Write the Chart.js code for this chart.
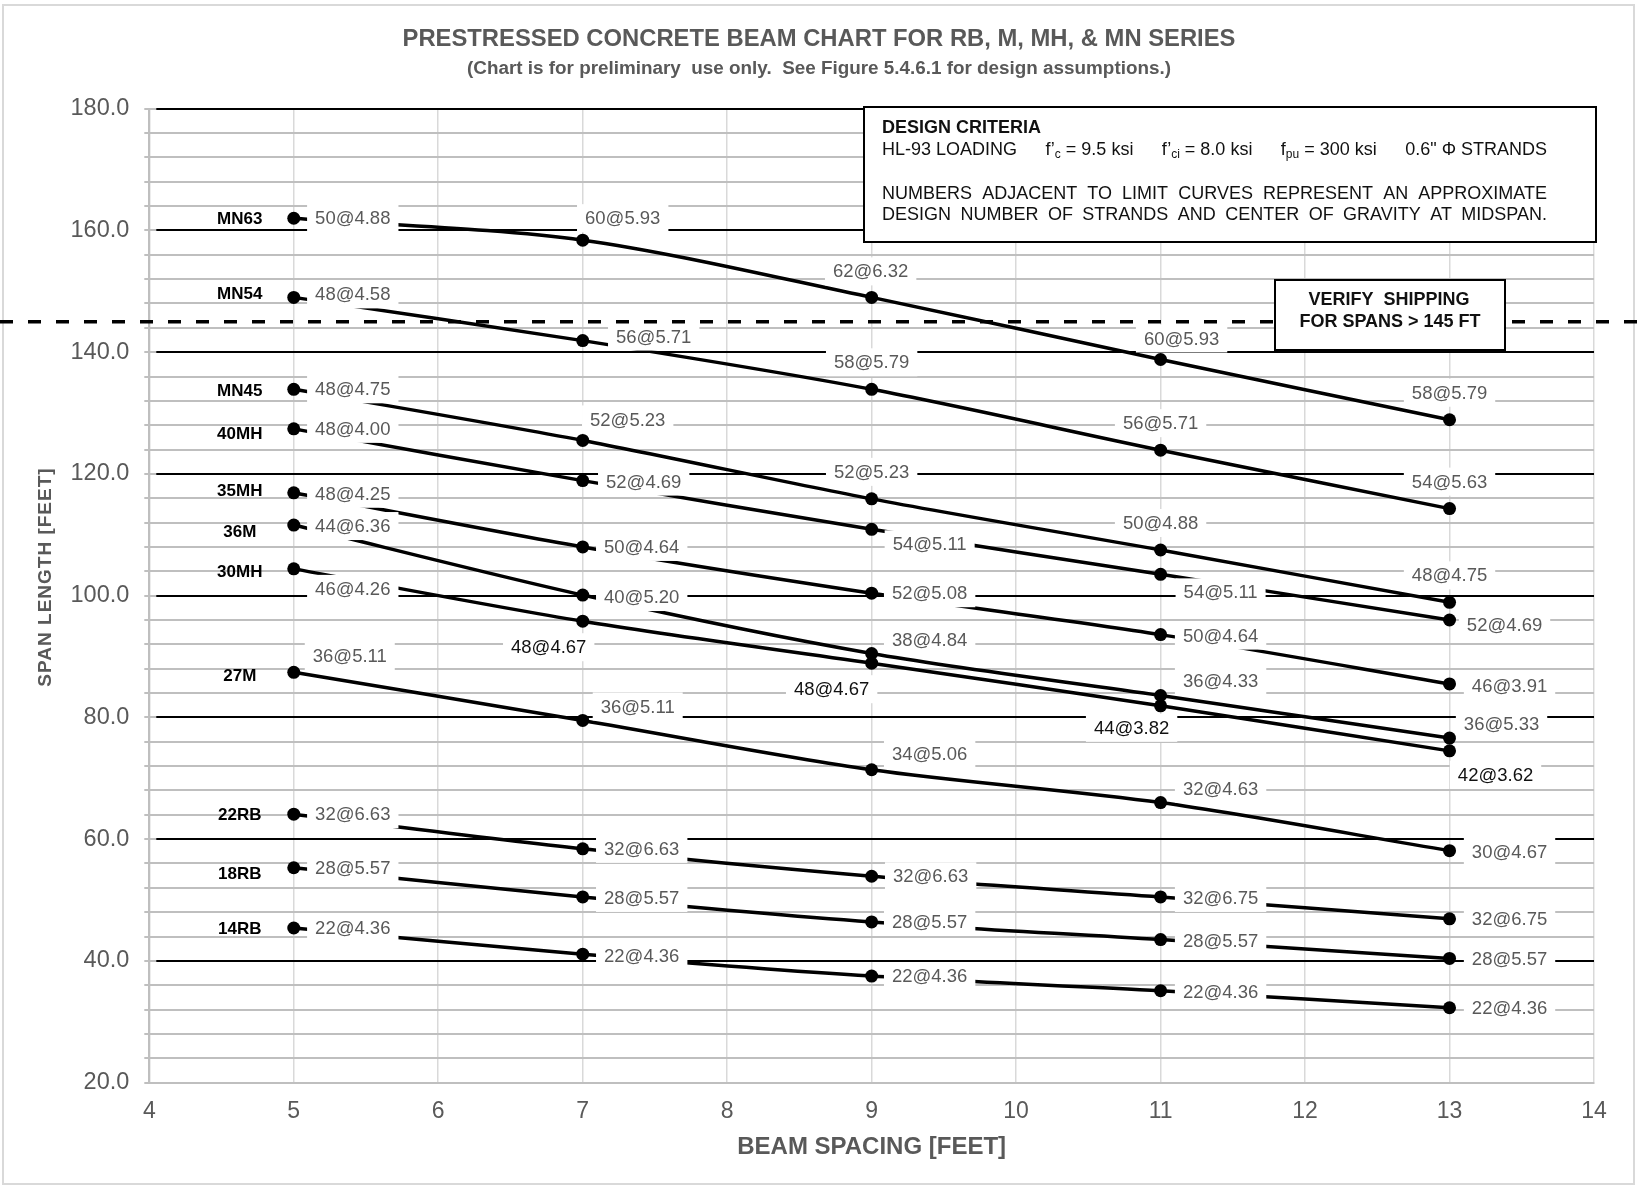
<!DOCTYPE html>
<html>
<head>
<meta charset="utf-8">
<script src="https://cdn.jsdelivr.net/npm/chart.js@4.4.1/dist/chart.umd.min.js"></script>
<style>
html,body{margin:0;padding:0;background:#fff;}
canvas{display:block;}
</style>
</head>
<body>
<canvas id="c" width="1637" height="1185"></canvas>
<script>
// ================= DATA =================
const beamSpacing = [5, 7, 9, 11, 13];            // x values [ft]
const xTickLabels = ['4','5','6','7','8','9','10','11','12','13','14'];
const yTickLabels = ['20.0','40.0','60.0','80.0','100.0','120.0','140.0','160.0','180.0'];

const seriesNames = ['MN63','MN54','MN45','40MH','35MH','36M','30MH','27M','22RB','18RB','14RB'];

const spanMN63 = [162.0, 158.4, 149.0, 138.8, 128.9];
const spanMN54 = [149.0, 141.9, 133.9, 123.9, 114.3];
const spanMN45 = [133.9, 125.5, 115.9, 107.5, 98.9];
const span40MH = [127.4, 118.9, 110.9, 103.5, 96.0];
const span35MH = [116.9, 108.0, 100.4, 93.6, 85.5];
const span36M  = [111.6, 100.1, 90.5, 83.6, 76.6];
const span30MH = [104.4, 95.8, 88.9, 81.9, 74.5];
const span27M  = [87.4, 79.5, 71.4, 66.0, 58.1];
const span22RB = [64.1, 58.4, 53.9, 50.5, 46.9];
const span18RB = [55.3, 50.5, 46.4, 43.5, 40.4];
const span14RB = [45.4, 41.1, 37.5, 35.1, 32.3];

const strandsMN63 = ['50@4.88','60@5.93','62@6.32','60@5.93','58@5.79'];
const strandsMN54 = ['48@4.58','56@5.71','58@5.79','56@5.71','54@5.63'];
const strandsMN45 = ['48@4.75','52@5.23','52@5.23','50@4.88','48@4.75'];
const strands40MH = ['48@4.00','52@4.69','54@5.11','54@5.11','52@4.69'];
const strands35MH = ['48@4.25','50@4.64','52@5.08','50@4.64','46@3.91'];
const strands36M  = ['44@6.36','40@5.20','38@4.84','36@4.33','36@5.33'];
const strands30MH = ['46@4.26','48@4.67','48@4.67','44@3.82','42@3.62'];
const strands27M  = ['36@5.11','36@5.11','34@5.06','32@4.63','30@4.67'];
const strands22RB = ['32@6.63','32@6.63','32@6.63','32@6.75','32@6.75'];
const strands18RB = ['28@5.57','28@5.57','28@5.57','28@5.57','28@5.57'];
const strands14RB = ['22@4.36','22@4.36','22@4.36','22@4.36','22@4.36'];

const shippingLimit = 145;   // ft

const chartTitle = 'PRESTRESSED CONCRETE BEAM CHART FOR RB, M, MH, & MN SERIES';
const chartSubtitle = '(Chart is for preliminary  use only.  See Figure 5.4.6.1 for design assumptions.)';
const xAxisTitle = 'BEAM SPACING [FEET]';
const yAxisTitle = 'SPAN LENGTH [FEET]';
const criteriaHeading = 'DESIGN CRITERIA';
const criteriaNote1 = 'NUMBERS ADJACENT TO LIMIT CURVES REPRESENT AN APPROXIMATE';
const criteriaNote2 = 'DESIGN NUMBER OF STRANDS AND CENTER OF GRAVITY AT MIDSPAN.';
const shippingNote = ['VERIFY  SHIPPING', 'FOR SPANS > 145 FT'];

const allSpans = [spanMN63, spanMN54, spanMN45, span40MH, span35MH, span36M, span30MH, span27M, span22RB, span18RB, span14RB];
const allStrands = [strandsMN63, strandsMN54, strandsMN45, strands40MH, strands35MH, strands36M, strands30MH, strands27M, strands22RB, strands18RB, strands14RB];

// ================= LAYOUT / STYLE =================
const FONT = '"Liberation Sans", Arial, Helvetica, sans-serif';
const GRAY_TEXT = '#595959';
// label offsets from point, in pixels [dx, dy]
const labelOffsets = [
  [[59,0],[40,-22],[-1,-26],[21,-21],[0,-27]],
  [[59,-3],[71,-4],[0,-27],[0,-27],[0,-27]],
  [[59,0],[45,-21],[0,-27],[0,-27],[0,-27]],
  [[59,0],[61,1],[58,15],[60,18],[55,5]],
  [[59,1],[59,0],[58,0],[60,1],[60,2]],
  [[59,1],[59,2],[58,-14],[60,-15],[52,-14]],
  [[59,20],[-34,26],[-40,26],[-29,22],[46,24]],
  [[56,-16],[55,-14],[58,-16],[60,-14],[60,1]],
  [[59,0],[59,0],[59,0],[60,1],[60,0]],
  [[59,0],[59,1],[58,0],[60,1],[60,0]],
  [[59,0],[59,2],[58,0],[60,1],[60,0]]
];
const darkLabel = [
  [0,0,0,0,0],[0,0,0,0,0],[0,0,0,0,0],[0,0,0,0,0],[0,0,0,0,0],[0,0,0,0,0],
  [0,1,1,1,1],[0,0,0,0,0],[0,0,0,0,0],[0,0,0,0,0],[0,0,0,0,0]
];
const nameDy = [0,-4,1,4,-2,6,2,3,0,6,0];

const datasets = allSpans.map((spans, i) => ({
  label: seriesNames[i],
  data: beamSpacing.map((x, j) => ({x: x, y: spans[j]})),
  showLine: true,
  borderColor: '#000',
  backgroundColor: '#000',
  borderWidth: 3.5,
  pointRadius: 6.5,
  pointBorderWidth: 0,
  pointBackgroundColor: '#000',
  tension: 0.3,
  fill: false
}));

function fitSize(ctx, text, weight, target) {
  ctx.font = weight + ' 100px ' + FONT;
  return 100 * target / ctx.measureText(text).width;
}

function drawJustified(ctx, pieces, x0, x1, y) {
  const mainF = '18px ' + FONT, subF = '12px ' + FONT;
  const widths = pieces.map(g => g.reduce((s, r) => { ctx.font = r.sub ? subF : mainF; return s + ctx.measureText(r.t).width; }, 0));
  const total = widths.reduce((a, b) => a + b, 0);
  const gap = pieces.length > 1 ? (x1 - x0 - total) / (pieces.length - 1) : 0;
  let x = x0;
  ctx.textAlign = 'left';
  ctx.textBaseline = 'middle';
  pieces.forEach(g => {
    g.forEach(r => {
      ctx.font = r.sub ? subF : mainF;
      ctx.fillText(r.t, x, y + (r.sub ? 5 : 0));
      x += ctx.measureText(r.t).width;
    });
    x += gap;
  });
}

const decorPlugin = {
  id: 'decor',
  beforeDraw(chart) {
    const ctx = chart.ctx;
    ctx.save();
    ctx.fillStyle = '#fff';
    ctx.fillRect(0, 0, chart.width, chart.height);
    ctx.strokeStyle = '#d9d9d9';
    ctx.lineWidth = 2;
    ctx.strokeRect(3, 5, 1631, 1179);
    ctx.restore();
  },
  beforeDatasetsDraw(chart) {
    const ctx = chart.ctx, ys = chart.scales.y, a = chart.chartArea;
    ctx.save();
    ctx.strokeStyle = '#000';
    ctx.lineWidth = 2;
    ys.ticks.forEach(t => {
      if (t.value % 20 === 0 && t.value > ys.min) {
        const py = Math.round(ys.getPixelForValue(t.value));
        ctx.beginPath();
        ctx.moveTo(a.left + 7, py);
        ctx.lineTo(a.right, py);
        ctx.stroke();
      }
    });
    ctx.restore();
  },
  afterDatasetsDraw(chart) {
    const ctx = chart.ctx, xs = chart.scales.x, ys = chart.scales.y, a = chart.chartArea;
    ctx.save();
    // data labels with white boxes
    allStrands.forEach((labels, i) => {
      labels.forEach((txt, j) => {
        const px = xs.getPixelForValue(beamSpacing[j]);
        const py = ys.getPixelForValue(allSpans[i][j]);
        const cx = px + labelOffsets[i][j][0];
        const cy = py + labelOffsets[i][j][1];
        ctx.font = '18.5px ' + FONT;
        const w = ctx.measureText(txt).width;
        ctx.fillStyle = '#fff';
        ctx.fillRect(cx - w / 2 - 8, cy - 14, w + 16, 28);
        ctx.fillStyle = darkLabel[i][j] ? '#111' : GRAY_TEXT;
        ctx.textAlign = 'center';
        ctx.textBaseline = 'middle';
        ctx.fillText(txt, cx, cy + 1);
      });
      // series name
      const px = xs.getPixelForValue(beamSpacing[0]);
      const py = ys.getPixelForValue(allSpans[i][0]);
      ctx.font = 'bold 17px ' + FONT;
      ctx.fillStyle = '#000';
      ctx.textAlign = 'center';
      ctx.textBaseline = 'middle';
      ctx.fillText(seriesNames[i], px - 54, py + nameDy[i] + 1);
    });

    // shipping limit dashed line across full width
    const yLim = ys.getPixelForValue(shippingLimit);
    ctx.strokeStyle = '#000';
    ctx.lineWidth = 3.5;
    ctx.setLineDash([13, 15]);
    ctx.beginPath();
    ctx.moveTo(0, yLim);
    ctx.lineTo(chart.width, yLim);
    ctx.stroke();
    ctx.setLineDash([]);

    // design criteria box
    ctx.fillStyle = '#fff';
    ctx.fillRect(864, 107, 732, 135);
    ctx.strokeStyle = '#000';
    ctx.lineWidth = 2;
    ctx.strokeRect(864, 107, 732, 135);
    ctx.fillStyle = '#111';
    ctx.font = 'bold 18px ' + FONT;
    ctx.textAlign = 'left';
    ctx.textBaseline = 'middle';
    ctx.fillText(criteriaHeading, 882, 128);
    drawJustified(ctx, [
      [{t: 'HL-93 LOADING'}],
      [{t: 'f\u2019'}, {t: 'c', sub: true}, {t: ' = 9.5 ksi'}],
      [{t: 'f\u2019'}, {t: 'ci', sub: true}, {t: ' = 8.0 ksi'}],
      [{t: 'f'}, {t: 'pu', sub: true}, {t: ' = 300 ksi'}],
      [{t: '0.6" \u03A6 STRANDS'}]
    ], 882, 1547, 150);
    drawJustified(ctx, criteriaNote1.split(' ').map(w => [{t: w}]), 882, 1547, 194);
    drawJustified(ctx, criteriaNote2.split(' ').map(w => [{t: w}]), 882, 1547, 215);

    // verify shipping box
    ctx.fillStyle = '#fff';
    ctx.fillRect(1275, 280, 230, 70);
    ctx.strokeStyle = '#000';
    ctx.lineWidth = 2;
    ctx.strokeRect(1275, 280, 230, 70);
    ctx.fillStyle = '#111';
    ctx.font = 'bold 18px ' + FONT;
    ctx.textAlign = 'center';
    ctx.fillText(shippingNote[0], 1389, 300);
    ctx.fillText(shippingNote[1], 1390, 322);

    // titles
    ctx.fillStyle = GRAY_TEXT;
    ctx.textAlign = 'center';
    ctx.font = 'bold 23.8px ' + FONT;
    ctx.fillText(chartTitle, 819, 39);
    const subSize = fitSize(ctx, chartSubtitle, 'bold', 704);
    ctx.font = 'bold ' + subSize.toFixed(2) + 'px ' + FONT;
    ctx.fillText(chartSubtitle, 819, 69);

    // axis titles
    ctx.font = 'bold 24px ' + FONT;
    ctx.fillText(xAxisTitle, (a.left + a.right) / 2, 1147);
    ctx.save();
    ctx.translate(46, 577);
    ctx.rotate(-Math.PI / 2);
    ctx.font = 'bold 19px ' + FONT;
    ctx.letterSpacing = '1px';
    ctx.fillText(yAxisTitle, 0, 0);
    ctx.restore();

    ctx.restore();
  }
};

new Chart(document.getElementById('c'), {
  type: 'scatter',
  data: { datasets: datasets },
  plugins: [decorPlugin],
  options: {
    responsive: false,
    animation: false,
    devicePixelRatio: 1,
    layout: { padding: { left: 0, right: 43, top: 108.7, bottom: 0 } },
    plugins: { legend: { display: false }, tooltip: { enabled: false } },
    scales: {
      x: {
        type: 'linear', min: 4, max: 14,
        ticks: {
          stepSize: 1, autoSkip: false, color: GRAY_TEXT, padding: 15,
          font: { family: FONT, size: 23 },
          callback: v => xTickLabels[Math.round(v) - 4] ?? ''
        },
        grid: { color: '#d9d9d9', lineWidth: 1.5, drawTicks: false },
        border: { color: '#bfbfbf', width: 2 },
        afterFit: s => { s.height = 1185 - 1082.6; }
      },
      y: {
        type: 'linear', min: 20, max: 180,
        ticks: {
          stepSize: 4, autoSkip: false, maxTicksLimit: 100, color: GRAY_TEXT, padding: 15,
          font: { family: FONT, size: 23.5 },
          callback: v => (v % 20 === 0 ? yTickLabels[(v - 20) / 20] : '')
        },
        grid: { color: '#bfbfbf', lineWidth: 2, tickLength: 5, tickColor: '#bfbfbf' },
        border: { color: '#bfbfbf', width: 2 },
        afterFit: s => { s.width = 149.3; }
      }
    }
  }
});
</script>
</body>
</html>
